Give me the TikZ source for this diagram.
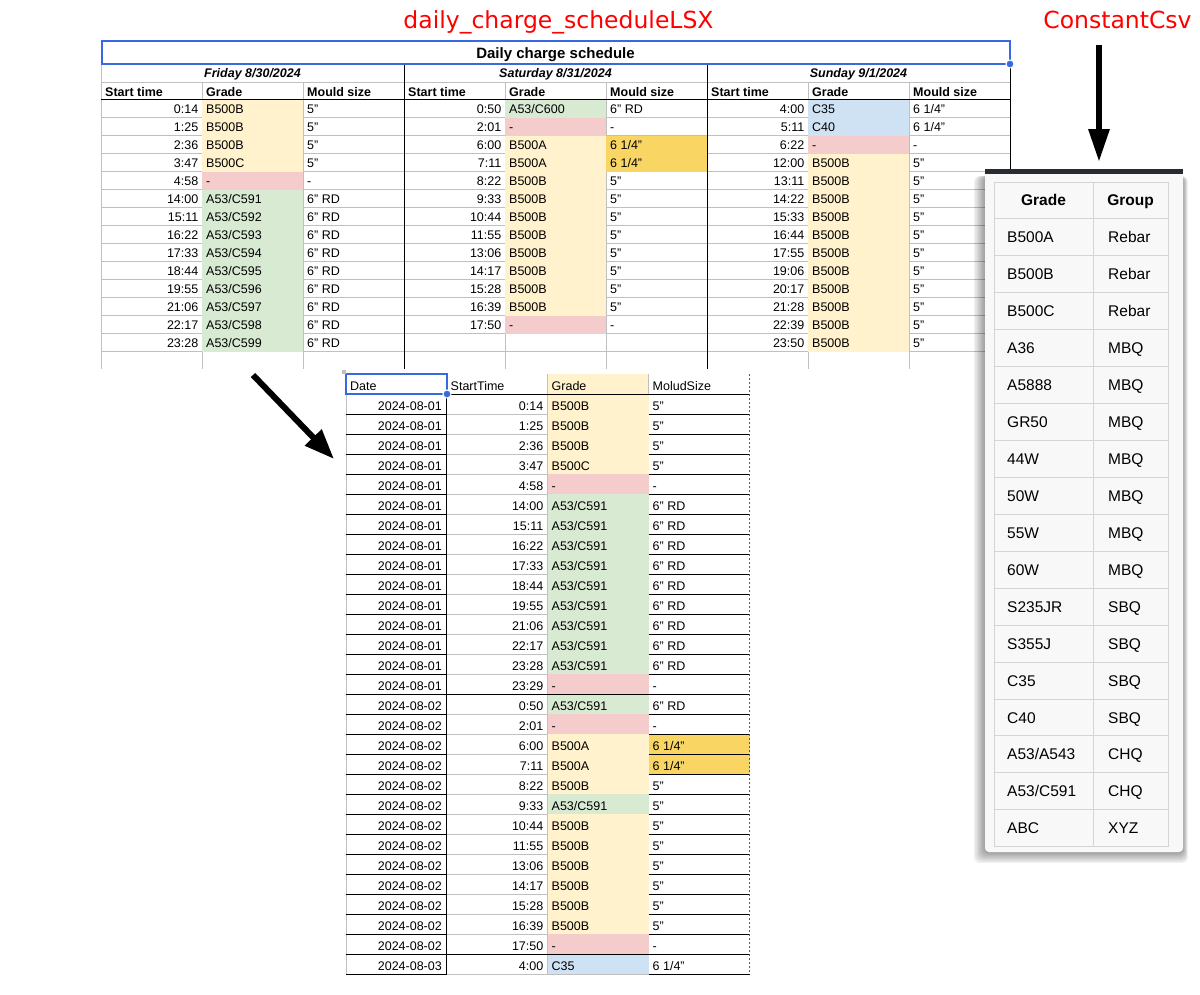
\documentclass[tikz,border=0pt]{standalone}
\usepackage{fontspec}
\setmainfont{Liberation Sans}
\newfontfamily\labelfont{DejaVu Sans}
\usetikzlibrary{arrows.meta}

\definecolor{gridgray}{RGB}{192,192,192}
\definecolor{selblue}{RGB}{55,105,225}
\definecolor{yel}{RGB}{255,242,204}
\definecolor{pnk}{RGB}{244,204,204}
\definecolor{grn}{RGB}{217,234,211}
\definecolor{blu}{RGB}{207,226,243}
\definecolor{org}{RGB}{249,214,99}
\definecolor{panelbg}{RGB}{248,248,248}
\definecolor{panelline}{RGB}{212,212,212}
\definecolor{panelbar}{RGB}{40,43,48}
\definecolor{markgreen}{RGB}{40,120,70}

\tikzset{
  cell/.style={inner sep=0pt,font=\fontsize{12.5}{14}\selectfont},
  lcell/.style={cell,anchor=base west},
  rcell/.style={cell,anchor=base east},
  hcell/.style={lcell,font=\fontsize{12.5}{14}\selectfont\bfseries},
  daycell/.style={cell,anchor=base,font=\fontsize{12.5}{14}\selectfont\bfseries\itshape},
  csvcell/.style={inner sep=0pt,anchor=base west,font=\fontsize{15.5}{18}\selectfont},
  csvhead/.style={inner sep=0pt,anchor=base,font=\fontsize{15.5}{18}\selectfont\bfseries},
  thingrid/.style={draw=gridgray,line width=1pt},
  blackgrid/.style={draw=black,line width=1pt},
  redtitle/.style={text=red,inner sep=0pt,anchor=base,font=\labelfont\fontsize{23.5}{26}\selectfont},
  bigarrow/.style={->,>={Triangle[length=30pt,width=22pt]},line width=6pt},
}

\begin{document}
\begin{tikzpicture}[x=1pt,y=-1pt]
  \fill[white] (0,0) rectangle (1200,994);
  \useasboundingbox (0,0) rectangle (1200,994);

  % titles
  \node[redtitle] (lsxtitle) at (558.5,28) {daily\_charge\_scheduleLSX};
  \node[redtitle] (csvtitle) at (1117.5,28) {ConstantCsv};

  % top sheet: grid
  \foreach \x in {101,202,303,505,606,808,909}
    \draw[thingrid] (\x,82) -- (\x,369);
  \draw[thingrid] (101,41) -- (101,82);
  \draw[thingrid] (101,82) -- (1010,82);
  \foreach \k in {1,...,14}
    \draw[thingrid] (101,99.5+18*\k) -- (1010,99.5+18*\k);
  \fill[org] (606,135.5) rectangle (707,171.5);

  % friday
  \foreach \t/\g/\m/\c [count=\i from 0] in {0:14/B500B/5"/yel,1:25/B500B/5"/yel,2:36/B500B/5"/yel,
      3:47/B500C/5"/yel,4:58/-/-/pnk,14:00/{A53/C591}/6" RD/grn,15:11/{A53/C592}/6" RD/grn,
      16:22/{A53/C593}/6" RD/grn,17:33/{A53/C594}/6" RD/grn,18:44/{A53/C595}/6" RD/grn,
      19:55/{A53/C596}/6" RD/grn,21:06/{A53/C597}/6" RD/grn,22:17/{A53/C598}/6" RD/grn,
      23:28/{A53/C599}/6" RD/grn} {
    \fill[\c] (202,99.5+18*\i) rectangle (303,117.5+18*\i);
    \node[rcell] (fri-t-\i) at (198.5,113.5+18*\i) {\t};
    \node[lcell] (fri-g-\i) at (206,113.5+18*\i) {\g};
    \node[lcell] (fri-m-\i) at (307,113.5+18*\i) {\m};
  }
  % saturday
  \foreach \t/\g/\m/\c [count=\i from 0] in {0:50/{A53/C600}/6" RD/grn,2:01/-/-/pnk,
      6:00/B500A/{6 1/4"}/yel,7:11/B500A/{6 1/4"}/yel,8:22/B500B/5"/yel,9:33/B500B/5"/yel,
      10:44/B500B/5"/yel,11:55/B500B/5"/yel,13:06/B500B/5"/yel,14:17/B500B/5"/yel,
      15:28/B500B/5"/yel,16:39/B500B/5"/yel,17:50/-/-/pnk} {
    \fill[\c] (505,99.5+18*\i) rectangle (606,117.5+18*\i);
    \node[rcell] (sat-t-\i) at (501.5,113.5+18*\i) {\t};
    \node[lcell] (sat-g-\i) at (509,113.5+18*\i) {\g};
    \node[lcell] (sat-m-\i) at (610,113.5+18*\i) {\m};
  }
  % sunday
  \foreach \t/\g/\m/\c [count=\i from 0] in {4:00/C35/{6 1/4"}/blu,5:11/C40/{6 1/4"}/blu,
      6:22/-/-/pnk,12:00/B500B/5"/yel,13:11/B500B/5"/yel,14:22/B500B/5"/yel,
      15:33/B500B/5"/yel,16:44/B500B/5"/yel,17:55/B500B/5"/yel,19:06/B500B/5"/yel,
      20:17/B500B/5"/yel,21:28/B500B/5"/yel,22:39/B500B/5"/yel,23:50/B500B/5"/yel} {
    \fill[\c] (808,99.5+18*\i) rectangle (909,117.5+18*\i);
    \node[rcell] (sun-t-\i) at (804.5,113.5+18*\i) {\t};
    \node[lcell] (sun-g-\i) at (812,113.5+18*\i) {\g};
    \node[lcell] (sun-m-\i) at (913,113.5+18*\i) {\m};
  }

  % top sheet: heavy lines and headings
  \draw[blackgrid] (101,99.5) -- (1010,99.5);
  \foreach \x in {404,707,1010}
    \draw[blackgrid] (\x,64) -- (\x,369);
  \foreach \o/\d in {101/Friday 8\slash 30\slash 2024,404/Saturday 8\slash 31\slash 2024,707/Sunday 9\slash 1\slash 2024} {
    \node[daycell] (day-\o) at (\o+151.5,77.5) {\d};
    \node[hcell] (start-\o) at (\o+4,96) {Start time};
    \node[hcell] (grade-\o) at (\o+105,96) {Grade};
    \node[hcell] (mould-\o) at (\o+206,96) {Mould size};
  }
  \node[inner sep=0pt,anchor=base,font=\fontsize{15}{17}\selectfont\bfseries] (sheettitle) at (555.5,58.5) {Daily charge schedule};
  \draw[selblue,line width=2pt] (102,41) rectangle (1010,64);
  \filldraw[fill=selblue,draw=white,line width=1pt] (1010,64) circle [radius=4pt];

  % bottom sheet
  \fill[yel] (547.5,374) rectangle (648.5,394);
  \foreach \k in {1,...,29}
    \draw[thingrid] (446.5,394+20*\k) -- (648.5,394+20*\k);
  \foreach \x in {346,547.5,648.5}
    \draw[thingrid] (\x,374) -- (\x,974);
  \fill[org] (648.5,734) rectangle (749.5,774);
  \foreach \d/\t/\g/\m/\c [count=\i from 0] in {2024-08-01/0:14/B500B/5"/yel,2024-08-01/1:25/B500B/5"/yel,
      2024-08-01/2:36/B500B/5"/yel,2024-08-01/3:47/B500C/5"/yel,2024-08-01/4:58/-/-/pnk,
      2024-08-01/14:00/{A53/C591}/6" RD/grn,2024-08-01/15:11/{A53/C591}/6" RD/grn,
      2024-08-01/16:22/{A53/C591}/6" RD/grn,2024-08-01/17:33/{A53/C591}/6" RD/grn,
      2024-08-01/18:44/{A53/C591}/6" RD/grn,2024-08-01/19:55/{A53/C591}/6" RD/grn,
      2024-08-01/21:06/{A53/C591}/6" RD/grn,2024-08-01/22:17/{A53/C591}/6" RD/grn,
      2024-08-01/23:28/{A53/C591}/6" RD/grn,2024-08-01/23:29/-/-/pnk,
      2024-08-02/0:50/{A53/C591}/6" RD/grn,2024-08-02/2:01/-/-/pnk,
      2024-08-02/6:00/B500A/{6 1/4"}/yel,2024-08-02/7:11/B500A/{6 1/4"}/yel,
      2024-08-02/8:22/B500B/5"/yel,2024-08-02/9:33/{A53/C591}/5"/grn,
      2024-08-02/10:44/B500B/5"/yel,2024-08-02/11:55/B500B/5"/yel,2024-08-02/13:06/B500B/5"/yel,
      2024-08-02/14:17/B500B/5"/yel,2024-08-02/15:28/B500B/5"/yel,2024-08-02/16:39/B500B/5"/yel,
      2024-08-02/17:50/-/-/pnk,2024-08-03/4:00/C35/{6 1/4"}/blu} {
    \fill[\c] (547.5,394+20*\i) rectangle (648.5,414+20*\i);
    \node[rcell] (row-d-\i) at (442,410.5+20*\i) {\d};
    \node[rcell] (row-t-\i) at (543.5,410.5+20*\i) {\t};
    \node[lcell] (row-g-\i) at (551.5,410.5+20*\i) {\g};
    \node[lcell] (row-m-\i) at (652.5,410.5+20*\i) {\m};
  }
  \foreach \k in {1,...,29} {
    \draw[blackgrid] (346,394+20*\k) -- (446.5,394+20*\k);
    \draw[blackgrid] (648.5,394+20*\k) -- (749.5,394+20*\k);
  }
  \foreach \k in {0,15,28}
    \draw[blackgrid] (346,394+20*\k) -- (749.5,394+20*\k);
  \draw[blackgrid] (446.5,394) -- (446.5,974);
  \draw[markgreen,line width=1pt,dash pattern=on 2pt off 2pt] (749.5,374) -- (749.5,974);
  \node[lcell] (head-date) at (350,390) {Date};
  \node[lcell] (head-time) at (450.5,390) {StartTime};
  \node[lcell] (head-grade) at (551.5,390) {Grade};
  \node[lcell] (head-size) at (652.5,390) {MoludSize};
  \draw[selblue,line width=2pt] (346,374) rectangle (446.5,394);
  \fill[gridgray] (342,370) rectangle (346,374);
  \filldraw[fill=selblue,draw=white,line width=1pt] (447,394) circle [radius=4pt];

  % constant csv panel
  \foreach \s in {1,...,8}
    \fill[black,opacity=0.05,rounded corners=6pt] (985-1.4*\s,176) rectangle (1183+0.6*\s,852+1.4*\s);
  \fill[panelbg,rounded corners=4pt] (985,170) rectangle (1183,852);
  \fill[panelbar] (985,169) rectangle (1183,173.5);
  \foreach \k in {0,...,18}
    \draw[panelline,line width=1pt] (994,182+36.93*\k) -- (1168,182+36.93*\k);
  \foreach \x in {994,1093,1168}
    \draw[panelline,line width=1pt] (\x,182) -- (\x,846.7);
  \node[csvhead] (csv-grade) at (1043.5,205.7) {Grade};
  \node[csvhead] (csv-group) at (1130.5,205.7) {Group};
  \foreach \g/\p [count=\i] in {B500A/Rebar,B500B/Rebar,B500C/Rebar,A36/MBQ,A5888/MBQ,GR50/MBQ,
      44W/MBQ,50W/MBQ,55W/MBQ,60W/MBQ,S235JR/SBQ,S355J/SBQ,C35/SBQ,C40/SBQ,
      {A53/A543}/CHQ,{A53/C591}/CHQ,ABC/XYZ} {
    \node[csvcell] (csv-g-\i) at (1007,182+36.93*\i+24) {\g};
    \node[csvcell] (csv-p-\i) at (1108,182+36.93*\i+24) {\p};
  }

  % arrows
  \coordinate (lsxout) at (253,375);
  \coordinate (sheetin) at (334,459);
  \coordinate (csvout) at (1099,45);
  \coordinate (csvin) at (1099,162);
  \draw[bigarrow] (lsxout) -- (sheetin);
  \draw[bigarrow,>={Triangle[length=33pt,width=20pt]}] (csvout) -- (csvin);
\end{tikzpicture}
\end{document}
